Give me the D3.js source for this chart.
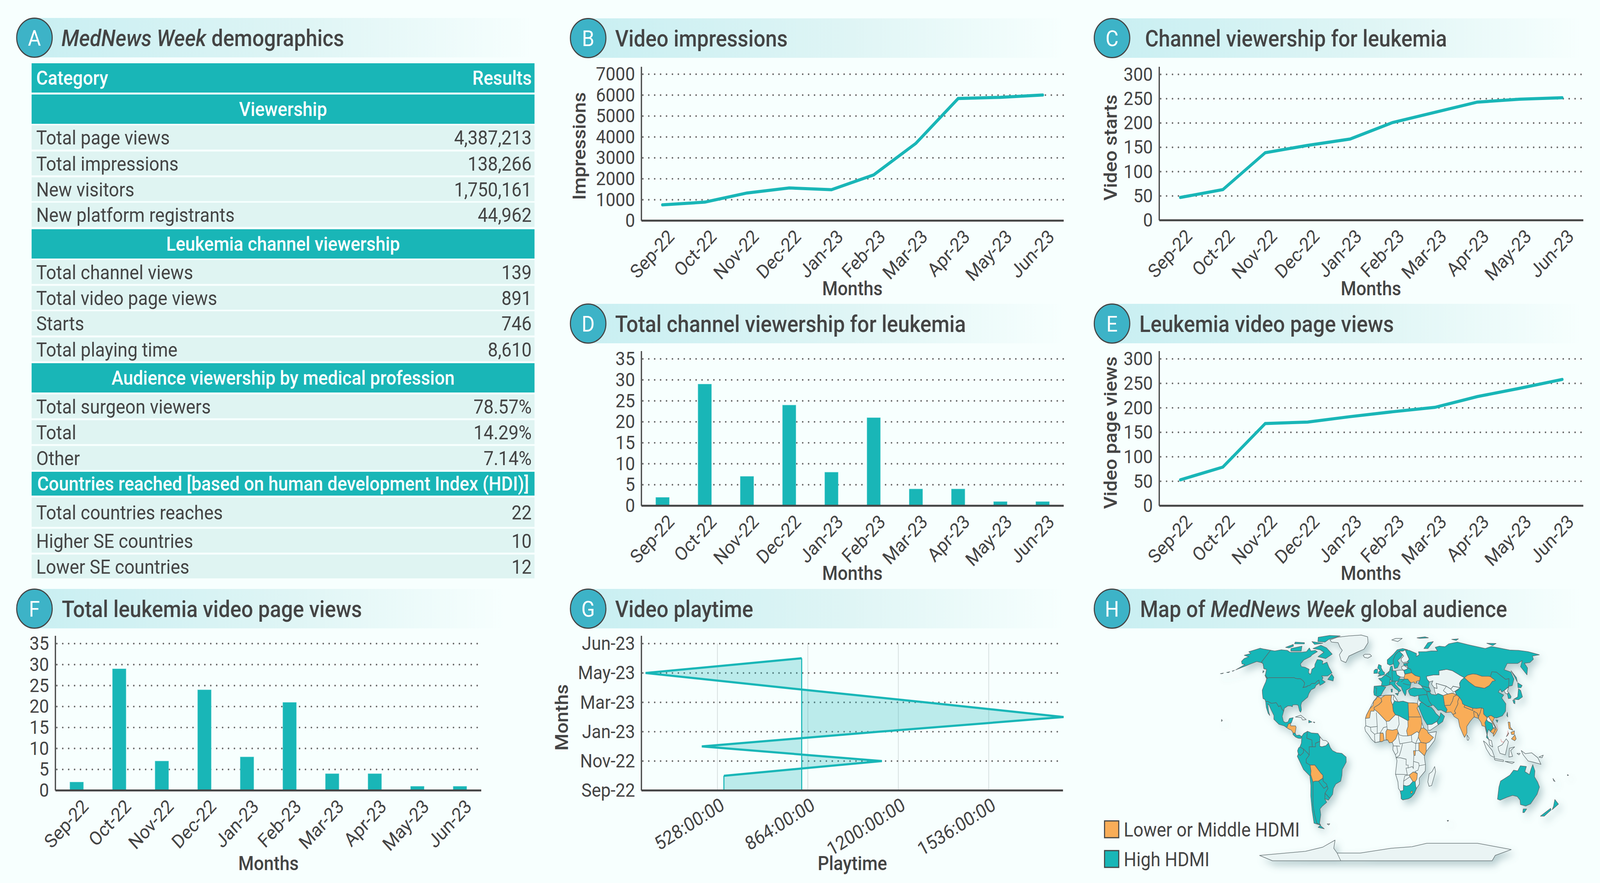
<!DOCTYPE html>
<html>
<head>
<meta charset="utf-8">
<title>MedNews Week</title>
<script src="https://cdn.jsdelivr.net/npm/d3@7"></script>
<style>
  html, body { margin: 0; height: 100%; overflow: hidden; background: #f7fffe; }
  #chart { display: block; width: 100vw; height: 100vh; }
  text { font-family: Roboto, sans-serif; fill: #444; }
</style>
</head>
<body>
<svg id="chart" viewBox="0 0 4505 2261" preserveAspectRatio="none"></svg>
<script>
// ---- data ----
const months = ["Sep-22","Oct-22","Nov-22","Dec-22","Jan-23","Feb-23","Mar-23","Apr-23","May-23","Jun-23"];
const impressions = [754, 885, 1322, 1564, 1480, 2188, 3696, 5838, 5894, 6005];
const videoStarts = [47, 63, 139, 154, 167, 201, 222, 243, 249, 252];
const channelViews = [2, 29, 7, 24, 8, 21, 4, 4, 1, 1];
const videoPageViews = [53, 79, 168, 171, 182, 192, 201, 223, 240, 258];
const totalVideoViews = [2, 29, 7, 24, 8, 21, 4, 4, 1, 1];

// playtime in hours, one per step of the rotated axis
const playtimeSteps = [0, 1, 2, 3, 4, 5, 6, 7, 8, 9];
const playtimeHours = [552, 552, 1139, 470, 1130, 1814, 1302, 774, 261, 841];
const playtimeBase = 841;
const playtimeTicks = [528, 864, 1200, 1536];
const playtimeTickLabels = ["528:00:00", "864:00:00", "1200:00:00", "1536:00:00"];
const playtimeStepTicks = [0, 2, 4, 6, 8, 10];
const playtimeStepLabels = ["Sep-22", "Nov-22", "Jan-23", "Mar-23", "May-23", "Jun-23"];

const tableLabels = ["Category", "Viewership", "Total page views", "Total impressions", "New visitors",
  "New platform registrants", "Leukemia channel viewership", "Total channel views", "Total video page views",
  "Starts", "Total playing time", "Audience viewership by medical profession", "Total surgeon viewers",
  "Total", "Other", "Countries reached [based on human development Index (HDI)]", "Total countries reaches",
  "Higher SE countries", "Lower SE countries"];
const tableValues = ["Results", "", "4,387,213", "138,266", "1,750,161", "44,962", "", "139", "891", "746", "8,610",
  "", "78.57%", "14.29%", "7.14%", "", "22", "10", "12"];
const tableKinds = ["head", "section", "row", "row", "row", "row", "section", "row", "row", "row", "row",
  "section", "row", "row", "row", "section", "row", "row", "row"];

// map regions as [lon, lat] rings
const otherRegions = [
  // africa base
  [[-17,21],[-16.5,16],[-17.5,14.7],[-16.7,12.3],[-13.5,9.5],[-11,6.8],[-7.5,4.4],[-3,5.1],[1.1,6],[4.5,6.3],[6,4.3],[8.7,4.6],[9.7,3],[9.3,-0.5],[11.8,-4],[13.3,-8],[12,-17],[14.5,-22.5],[15.2,-27],[17,-28.8],[18,-31.5],[18.3,-34],[20,-34.8],[25.5,-34],[28,-33],[31,-30.5],[32.8,-27],[35.5,-24],[35,-20],[40.5,-15],[40.5,-11],[39.3,-6],[39.3,-4.6],[41,-1.7],[49,6],[51,12],[43,11],[39,14.5],[37.4,18],[35.8,23.7],[33.5,28],[31,31.5],[25,31.7],[20,32.8],[15,32.3],[11,37],[2,36.8],[-5.9,35.8],[-9.3,32.8],[-13,27.7],[-16,23.5]],
  [[49.3,-12],[50.4,-15.5],[47.5,-25],[45,-25.5],[43.5,-22.5],[44.3,-17],[47,-15.5]],
  [[8.6,36.9],[11,37],[10.2,34],[11.5,33],[9.5,30],[8,33]],
  [[43,13],[43,16.8],[47,17],[52,19],[53,16.6],[45,12.8]],
  [[34.2,31.3],[35.9,35],[36.5,33],[39,32],[37,31.5],[36,29.5],[34.9,29.5]],
  [[-73,78.5],[-65,81],[-50,82.5],[-32,83.5],[-22,81.5],[-20,76],[-24,70.5],[-32,68],[-41,65],[-43,60],[-49,61.5],[-53,66],[-51,69.5],[-55,72],[-60,76],[-69,76.5]],
  [[-24,65.5],[-22,63.9],[-18,63.4],[-13.7,65],[-16,66.4],[-22,66.4]],
  [[12,78.5],[18,80],[27,80],[20,77]],
  [[-60,8.5],[-57,6],[-54,5.8],[-51.7,4.2],[-54,2.3],[-58,1.5],[-60,2],[-60,5.2]],
  [[-85,22],[-80,23.2],[-74.2,20.2],[-77.7,19.9],[-79,21.5]],
  [[47,50],[55,51],[61,51],[62,54],[71,55],[77,54],[83,51],[87.5,49],[83,47],[80.5,45],[80,42],[73,43],[70,41],[66,43],[61,44],[56,45],[56,41.5],[53,42],[51,44.5],[53,46.8],[49,46],[47,48]],
  [[56,45],[61,44],[66,43],[70,41],[73,43],[80,42],[73.8,39.5],[74.8,37],[71,38.3],[65,37.5],[61,36.6],[56,38],[54,37],[53,39.5],[53,42],[56,41.5]],
  [[20,69],[25,69],[28,70],[29,67],[31,62.5],[28,60.5],[23,60],[21.5,61.5],[21.5,63],[25,65],[24,66]],
  [[14.2,53.9],[19,54.5],[23,54.3],[24,50.8],[22.7,49.2],[18.9,49.5],[15,51]],
  [[21,55.3],[21,57],[24,57.8],[28,56],[26.5,55],[23,54.3]],
  [[100,20.3],[101,21.5],[102.2,22.4],[105,18.5],[107.5,15],[105.5,14.4],[104.8,17.5],[101,19]],
  [[100.5,6.5],[103,5.8],[104,1.4],[101,2.8]],
  [[95.3,5.6],[98,4],[103.5,-1],[106,-5.8],[102,-4.5],[98,0]],
  [[105.5,-6.5],[114.5,-7.6],[114.5,-8.6],[106.5,-7.6]],
  [[109,1.5],[113,3],[117,7],[119,5],[117.5,1],[116,-4],[111,-3],[109.5,-0.5]],
  [[119.5,-5.5],[119.8,0.5],[124.8,1.5],[121,-1],[123,-5]],
  [[116,-8.5],[125,-9],[123,-10]],
  [[127,-3],[130,-3],[129,-4]],
  [[131,-1],[135,-3.2],[141,-2.6],[147,-6],[150.5,-10.5],[143,-9],[138,-8.2],[133,-4]],
  [[148,-5.5],[152,-4.2],[151,-6]],
  [[164.2,-20.2],[167,-22.3],[165.5,-21.8]],
  [[177.3,-17.5],[178.6,-18],[177.5,-18.2]],
  [[80,9.7],[81.8,7.5],[81,6],[80,6.2]],
  [[124.3,40],[128,41.5],[130.7,42.5],[127.5,39.5],[128.4,38.5],[126.6,37.8],[125,38]],
  [[-156,20.3],[-154.9,19.5],[-155.8,19]],
  [[-61,-51.5],[-58,-51.4],[-59.5,-52.3]],
  [[69,-49],[70.5,-49],[70,-49.7]],
  [[-165,-76],[-100,-72.5],[-75,-69],[-57,-63.5],[-62,-70],[-60,-74],[-30,-74],[10,-70],[36,-68.7],[53,-66],[115,-66],[163,-71],[150,-76],[155,-81],[-157,-81]]
];

const highRegions = [
  // north america
  [[-124.7,48.4],[-123,49],[-95.2,49],[-94.6,48.7],[-92,48.3],[-88.4,48.3],[-84.8,46.8],[-82.5,45.3],[-82.4,43],[-83.1,42.1],[-79,42.8],[-79,43.3],[-76.5,43.6],[-75,45],[-71.5,45],[-70,46.5],[-68.3,47.3],[-67,45.2],[-70,43.7],[-70.7,41.8],[-74,40.6],[-75.5,38],[-76,35.5],[-78.5,33.8],[-81,32],[-81.3,30],[-80,26.8],[-80.4,25.2],[-81.8,26.2],[-82.8,28],[-84,30],[-86,30.4],[-89.5,30.2],[-89.4,29],[-91.5,29.5],[-94,29.6],[-97,28],[-97.2,25.9],[-99.5,27.5],[-101.4,29.8],[-103,29],[-104.8,30.6],[-106.5,31.8],[-108.2,31.5],[-111,31.3],[-114.8,32.5],[-117.1,32.5],[-118.5,34],[-120.6,34.6],[-122.5,37.5],[-124.2,40.3],[-124.2,43],[-124,46.2]],
  [[-141,69.6],[-141,60.3],[-137.5,58.9],[-133.5,55.5],[-130,55],[-134,58.5],[-141,60],[-147,60.8],[-152,59],[-156,57.5],[-164,54.6],[-158,58.5],[-162,59],[-165,61],[-164.5,63],[-161,64.5],[-168,65.6],[-162,67],[-166.5,68.4],[-156.5,71.3],[-150,70.5]],
  [[-141,69.6],[-135,69],[-128,70],[-120,69.5],[-115,68],[-108,68],[-100,68],[-95,68.5],[-94,71.5],[-90,69],[-85,69.5],[-81.5,68.5],[-86,66],[-87,64.5],[-93,62],[-94.8,59],[-92.5,57],[-88,56.5],[-82.5,55],[-82,52.8],[-79.5,51.3],[-78.8,52.5],[-79.5,55],[-77,56.5],[-78,58.7],[-77.5,62.3],[-73,62],[-70,61],[-69.5,58.8],[-65,60.3],[-61,56.5],[-56,52.5],[-60,50.2],[-66.5,50.2],[-64.5,49],[-65,47.5],[-61,46],[-63.5,44.6],[-66,43.6],[-67,45.2],[-68.3,47.3],[-70,46.5],[-71.5,45],[-75,45],[-76.5,43.6],[-79,43.3],[-79,42.8],[-83.1,42.1],[-82.4,43],[-82.5,45.3],[-84.8,46.8],[-88.4,48.3],[-92,48.3],[-94.6,48.7],[-95.2,49],[-123,49],[-124.7,48.4],[-128,51],[-130,55],[-133.5,55.5],[-137.5,58.9],[-141,60.3]],
  [[-62,66.5],[-68,63],[-78,64.5],[-73,68],[-79,70],[-89,71],[-81,73.7],[-72,71.5]],
  [[-62,82.5],[-78,83],[-92,81],[-88,77],[-78,76.5],[-75,79]],
  [[-117,71],[-105,73],[-102,69],[-115,69]],
  [[-125,72],[-118,74.5],[-116,73],[-120,71.5]],
  [[-96,77],[-80,75.5],[-90,74.5]],
  [[-118,76.5],[-105,76],[-104,75],[-117,75]],
  [[-59,47.7],[-53,46.7],[-53,49.3],[-56,51.5]],
  [[-133,54],[-131.5,53.5],[-132,52.5]],
  [[-128.3,50.8],[-124,48.8],[-125.5,48.8]],
  [[-167,53.7],[-165,54.3],[-166,53.6]],
  [[-172,52.7],[-169,53.2],[-170,52.6]],
  [[-178,51.9],[-175,52.3],[-176,51.8]],
  [[-117.1,32.5],[-114.8,32.5],[-111,31.3],[-108.2,31.5],[-106.5,31.8],[-104.8,30.6],[-103,29],[-101.4,29.8],[-99.5,27.5],[-97.2,25.9],[-97.8,22.4],[-96,19],[-94,18.2],[-91.5,18.6],[-90.5,21],[-87,21.5],[-88.2,18],[-91,17.2],[-92,14.6],[-95,16],[-100,17],[-105.5,20.4],[-106,23],[-109.4,26.5],[-112.8,30],[-114.5,31],[-112,26],[-110,23],[-112,24.5],[-115,28.5]],
  [[-85.7,11],[-83.7,11],[-82.5,9.3],[-79.5,9.6],[-77.3,8.6],[-78,7.3],[-80.4,7.4],[-83,8.2],[-85.7,10]],
  [[-71.7,19.7],[-68.5,18.6],[-71.5,18]],
  [[-67.2,18.5],[-65.6,18.4],[-66,18]],
  // south america
  [[-77.3,8.6],[-75.5,10.7],[-72,12.2],[-72.3,10],[-72.4,7.5],[-67.5,6.2],[-67,1.5],[-70,1.5],[-69.7,-4.2],[-72,-2.4],[-75.2,-0.1],[-78.8,1.4],[-77.4,4],[-77.3,7]],
  [[-72,12.2],[-68,11],[-62,10.7],[-60,8.5],[-60,5.2],[-64,4],[-64,1.5],[-67,1.5],[-67.5,6.2],[-72.4,7.5],[-72.3,10]],
  [[-80,0.8],[-78.8,1.4],[-75.2,-0.1],[-75.5,-2.5],[-78.5,-4.5],[-80.3,-3.4],[-81,-1.2]],
  [[-80.3,-3.4],[-78.5,-4.5],[-75.5,-2.5],[-75.2,-0.1],[-72,-2.4],[-69.9,-4.2],[-73,-7],[-73,-9.5],[-69.5,-11],[-69,-15],[-69.5,-17.5],[-70.4,-18.4],[-76,-14],[-81.3,-5]],
  [[-60,5.2],[-60,2],[-58,1.5],[-54,2.3],[-51.7,4.2],[-50,1],[-48,-1],[-44,-2.5],[-39,-3],[-35,-5.5],[-35,-9],[-39,-14],[-39.5,-18],[-41,-22],[-46,-24],[-48.7,-27],[-50,-31],[-53.4,-33.7],[-57.5,-30.2],[-54,-27],[-54.6,-25.5],[-55,-24],[-58,-22],[-57.8,-18],[-60,-16.2],[-65,-11],[-69.5,-11],[-73,-9.5],[-73,-7],[-69.9,-4.2],[-70,1.5],[-67,1.5],[-64,1.5],[-64,4]],
  [[-58.2,-20],[-58,-22],[-55,-24],[-54.6,-25.5],[-58,-27],[-62.6,-22]],
  [[-57.5,-30.2],[-53.4,-33.7],[-55,-35],[-58.4,-34]],
  [[-66,-22],[-62.6,-22],[-58,-27],[-54.6,-25.5],[-54,-27],[-57.5,-30.2],[-58.4,-34],[-57,-36.5],[-62,-39],[-65,-41],[-65.5,-45],[-69,-51],[-68.4,-52.4],[-72,-51],[-72,-45],[-71.5,-38],[-70,-33],[-68,-22.5]],
  [[-69,-52.6],[-65.5,-55],[-72,-54]],
  [[-70.4,-18.4],[-69.5,-17.5],[-68,-22.5],[-70,-33],[-71.5,-38],[-72,-45],[-72,-51],[-68.4,-52.4],[-75,-51],[-73.5,-42],[-72,-32],[-70.5,-25]],
  // africa, middle east
  [[11.5,33],[15,32.3],[20,32.8],[25,31.7],[25,20],[24,19.5],[15,23],[12,23.5],[10,26],[9.5,30]],
  [[17,-28.8],[20,-28.4],[20,-24.8],[23,-25.4],[26,-24.7],[29,-22.2],[31.3,-22.4],[32,-25.5],[32.8,-27],[31,-30.5],[28,-33],[25.5,-34],[20,-34.8],[18.3,-34],[18,-31.5]],
  [[52,19],[55,22],[56.3,24.9],[59.8,22.5],[57.5,18.8],[53,16.6]],
  [[34.9,29.5],[36,29.5],[37,31.5],[39,32],[44,29.2],[47.8,28.5],[50,26.5],[51.5,24.5],[55,22],[52,19],[47,17],[43,16.8],[42.5,16.5],[39,21],[37,25]],
  [[35.9,35],[36,36.7],[42,37.3],[44.8,37.2],[46,33],[48.5,30],[47.8,29.5],[44,29.2],[39,32],[36.5,33]],
  [[44.8,39.5],[48,39],[49,37.5],[54,37],[56,38],[61,36.6],[61,31.5],[63,27],[61.5,25],[57,26.8],[54,26.5],[50,30],[48.5,30],[46,33],[44.8,37.2]],
  [[26,40],[28,41.2],[32,42],[36,41.5],[41.5,41.5],[44.8,39.5],[44.8,37.2],[42,37.3],[36,36.7],[32,36],[27.5,36.8],[26.5,38.5]],
  [[40,43.4],[48,41.8],[49,39.5],[44.8,39.5],[41.5,41.5]],
  // asia
  [[73.8,39.5],[80,42],[80.5,45],[83,47],[87.5,49],[91,46],[96,42.8],[105,41.6],[111,43.5],[116,46.5],[116,49.8],[120,53.2],[125,53],[131,47.8],[135,48.4],[131,43],[128,41.5],[124.3,40],[121.5,39],[121,41],[118,39],[122.5,37],[119.5,35],[122,31],[120,26],[116,22.8],[110,21.3],[108,21.5],[105,23],[102.2,22.4],[101,21.5],[98,24],[98.7,27.5],[97,28.2],[92,27.8],[88.2,28],[81,30],[79,31],[78.8,33],[77,35.5],[74.8,37]],
  [[28,70],[33,69.5],[41,67],[40,64.6],[44,66],[44,68.4],[54,68.5],[60,69],[68,69],[67,72],[73,73],[80,72.5],[87,75],[100,76.5],[113,74],[130,71],[140,72.7],[160,69.7],[170,69.5],[180,68.5],[190,66],[180,65],[177.5,62.5],[170,60],[163,59.5],[162.5,56],[156.7,51],[155.7,57],[163,61.5],[155,59.3],[143,59.3],[135,54.7],[141,53],[140,48],[135,43.5],[131,43],[135,48.4],[131,47.8],[125,53],[120,53.2],[116,49.8],[114,50],[107,50],[102,51.4],[98,51.7],[92,50.8],[87.5,49],[83,51],[77,54],[71,55],[62,54],[61,51],[55,51],[47,50],[47,48],[49,46],[47.5,43],[48,41.8],[40,43.4],[37,45],[39,47],[40,49.5],[35,50.5],[31.5,52.5],[31,55],[28,56],[27.5,59.5],[30,60],[28,60.5],[31,62.5],[29,67]],
  [[142,54],[143.5,49],[142,46],[142,50]],
  [[52,71],[57,71],[68,77],[60,76]],
  [[48,80.5],[60,81.5],[64,80.5],[52,80]],
  [[95,79],[105,79.5],[100,78]],
  [[138,75.5],[150,75.3],[143,73.5]],
  [[98,18],[100,20.3],[101,19],[104.8,17.5],[105.5,14.4],[102.5,12],[100.8,13.5],[99.5,11],[99.2,9.2],[100.5,6.5],[98.3,8],[99,10],[98.6,14]],
  [[121.5,25.2],[121,22],[120.2,23]],
  [[109,20],[111,19.8],[110,18.3]],
  [[131,34],[136,35.7],[140,41.3],[141.5,40],[140.8,35.7],[136,33.8],[132.5,34]],
  [[140,42],[142,45.4],[145.3,43.5],[143,42]],
  [[130,33.5],[132,33.3],[131,31],[130,31.5]],
  [[126,34.5],[126.6,37.8],[128.4,38.5],[129.4,36],[128.5,34.8]],
  // europe
  [[5,59],[5,62],[12,66],[18,70],[25,71],[31,70],[28,70],[25,69],[20,69],[15,66],[12,62],[12,59],[8,58]],
  [[12,59],[12,62],[15,66],[20,69],[24,66],[21.5,64],[17,61.5],[19,59.5],[16.5,56.3],[13,55.5]],
  [[-5.5,50],[1.5,51.2],[1.7,52.7],[0,53.5],[-2,56],[-2,57.7],[-5,58.6],[-6,56],[-3,54],[-5,53],[-5,51.7],[-3,51.3]],
  [[-10,52],[-6,52.2],[-6,55.2],[-8.5,55],[-10,54]],
  [[-4.7,48.4],[-1.5,48.7],[2.5,51],[8,49],[7.5,47.5],[6.8,44],[3,43.2],[-1.7,43.4],[-1,46]],
  [[-9.3,43],[-1.7,43.4],[3,42.4],[0,39.5],[-2,36.8],[-5.5,36],[-9,37],[-9.5,39]],
  [[2.5,51],[4,52],[7,53.5],[8.5,57],[10.5,57.5],[11,54],[14.2,53.9],[15,51],[18.9,49.5],[17,48],[16.5,46.5],[13.5,46.5],[10,46.5],[7.5,47.5],[8,49]],
  [[23.5,59.2],[27.5,59.5],[27.5,57.6],[24,57.8]],
  [[23,54.3],[26.5,55],[28,56],[31,55],[31.5,52.5],[24,51.5]],
  [[16.5,46.5],[17,48],[22.7,48],[26.5,48],[28.5,46],[29.5,45],[28,41.8],[26,41],[24,40.5],[23.5,38],[22.5,36.5],[21,38.5],[19.5,41],[19,42.5],[16,43.5],[14,45]],
  [[7,44],[7.5,46],[10,46.5],[13.5,46.5],[12.5,44.5],[16,41.8],[18.5,40],[16,39],[16,38],[15.5,40],[12.5,41.5],[10.5,43],[8.7,44.3]],
  [[12.5,38],[15.5,38.2],[15,36.7]],
  [[8.3,41],[9.7,41],[9.5,39],[8.5,39]],
  // oceania
  [[114,-22],[113.5,-26],[115,-34.3],[118,-35],[124,-33],[129,-31.7],[134,-32.5],[138,-35],[140,-38],[146,-39],[150,-37.5],[153,-31],[153.2,-26],[150,-22.5],[146,-19],[145.5,-15],[142.7,-10.7],[141.5,-14],[140.8,-17.5],[136,-15.5],[136.8,-12],[131,-11.5],[129,-15],[125,-14.5],[122,-18],[117,-20.5]],
  [[144.7,-41],[148.3,-41],[147.5,-43.5],[146,-43.5]],
  [[172.7,-34.5],[178.5,-37.7],[175,-41.5],[174.5,-39]],
  [[172.7,-40.6],[174,-41.7],[170.5,-46],[166.5,-46]]
];

const lowerRegions = [
  [[-92,14.6],[-91,17.2],[-89,17.9],[-88.5,15.9],[-84,15.9],[-83.2,15],[-83.7,11],[-85.7,11],[-87.5,13],[-90,13.7]],
  [[-69.5,-11],[-65,-11],[-60,-16.2],[-57.8,-18],[-58.2,-20],[-62.6,-22],[-66,-22],[-68,-22.5],[-69.5,-17.5],[-69,-15]],
  [[-5.9,35.8],[-2,35],[-1.2,32.5],[-4,30.5],[-8.7,28.5],[-8.7,26],[-12,26],[-13,21.3],[-17,21],[-16,23.5],[-13,27.7],[-9.8,30],[-9.3,32.8],[-6.8,34.2]],
  [[-2,35],[2,36.8],[8.6,36.9],[8,33],[9.5,30],[10,26],[12,23.5],[6,19.2],[3.2,19],[-4.8,25],[-8.7,27.3],[-8.7,28.5],[-4,30.5],[-1.2,32.5]],
  [[25,31.7],[31,31.5],[34.2,31.3],[34.9,29.5],[33.5,28],[35.8,23.7],[36.9,22],[25,22]],
  [[25,22],[36.9,22],[37.4,18],[36.5,14.3],[34.2,11],[32.5,12],[27,9.5],[23.5,9],[22.5,12.5],[24,15.5],[24,19.5],[25,20]],
  [[36.5,14.3],[39,14.5],[42.5,12.5],[43,11],[48,8],[44,4.8],[41,3.9],[36,4.5],[33.5,8],[34.2,11]],
  [[34,4.2],[36,4.5],[41,3.9],[41,-1.7],[39.3,-4.6],[34,-1]],
  [[2.7,6.3],[2.8,12],[4,13.5],[9,12.9],[13.5,13.7],[14.5,11.5],[12,7],[8.7,4.6],[6,4.3],[4.5,6.3]],
  [[-3,5.1],[-2.8,11],[0,11],[0.5,10],[1.1,6],[-1,5.1]],
  [[25.3,-17.8],[29,-15.7],[33,-16.8],[32.8,-20.5],[31.3,-22.4],[29,-22.2],[26,-19]],
  [[27,-29.5],[28.6,-28.6],[29.4,-29.5],[28,-30.6]],
  [[28.9,-1.2],[30.8,-1.2],[30.5,-4.4],[29.3,-4.4]],
  [[61,36.6],[65,37.5],[71,38.3],[74.8,37],[71.5,36],[69.5,33],[66.5,30],[61,29.8],[61,31.5]],
  [[61,29.8],[66.5,30],[69.5,33],[71.5,36],[74.8,37],[77,35.5],[74.5,32.5],[74.5,31],[70,26],[71,24.5],[68,23.7],[66.5,25.4],[61.5,25],[63,27]],
  [[74.5,31],[74.5,32.5],[77,35.5],[78.8,33],[79,31],[81,30],[80,28.8],[88,26.4],[88.2,28],[92,27.8],[97,28.2],[95,25],[93,22.5],[92,24.5],[88.8,26],[88.5,22],[87,21.2],[84,19],[80.3,15.5],[80,11],[77.5,8],[76,10.5],[73.5,15.5],[72.8,20.5],[69,22.3],[68,23.7],[71,24.5],[70,26]],
  [[80,28.8],[81,30],[88.2,28],[88,26.4]],
  [[88.5,22],[88.8,26],[92,24.5],[92.3,21]],
  [[92.3,21],[93,22.5],[95,25],[97,28.2],[98.7,27.5],[98,24],[101,21.5],[100,20.3],[98,18],[98.6,14],[99,10],[97.7,15.5],[95,16],[94.3,18.5]],
  [[102.2,22.4],[105,23],[108,21.5],[105.7,19],[109.2,13],[107,10.5],[105,8.7],[105,10.5],[107.5,13.5],[107.5,15],[105,18.5]],
  [[102.5,12],[105.5,14.4],[107.5,13.5],[105,10.5]],
  [[120.5,18.5],[122.2,18.4],[122,15],[124,13],[120.5,14]],
  [[122,7],[125.5,9.7],[126.5,7],[125,5.7]],
  [[122,11.5],[125.5,12.5],[125,10],[122.5,10]],
  [[117.3,8.5],[119.5,11.3],[119.7,10.5]],
  [[87.5,49],[92,50.8],[98,51.7],[102,51.4],[107,50],[114,50],[116,49.8],[119.5,47],[116,46.5],[111,43.5],[105,41.6],[96,42.8],[91,46]],
  [[24,51.5],[31.5,52.5],[35,50.5],[40,49.5],[39,47],[35,46.3],[36,45.3],[33,45],[33,46],[30,45.5],[28.5,46],[26.5,48],[22.7,48],[22.7,49.2]]
];

const mapBorderLines = [
  [[-16.5,16],[-12,15],[-5.5,15.5],[-6.5,25]],
  [[3.2,19],[3.8,15.3],[0.5,14.8],[-2.8,11]],
  [[-12,15],[-11.5,12.4],[-8,10.2],[-8,7.5],[-7.5,4.4]],
  [[-5.5,15.5],[-5.5,10.8],[-2.8,11]],
  [[-5.5,10.8],[-8,10.2]],
  [[12,23.5],[15,23],[15.5,17],[13.5,13.7]],
  [[4,13.5],[3.8,15.3]],
  [[14.5,11.5],[15.5,9.7],[19,9],[23.5,9]],
  [[15,7.5],[16,3.5],[19,4],[27.4,5],[27,9.5]],
  [[27.4,5],[31,3.8],[34,4.2]],
  [[33.5,8],[31,3.8]],
  [[15,7.5],[14.5,11.5]],
  [[9.7,2.2],[16,2]],
  [[13,2.3],[14,-2.3],[11.8,-4]],
  [[18.5,3.5],[17,-1],[15.5,-4.5],[12.3,-6]],
  [[12.3,-6],[16.5,-6],[22,-7],[22,-11],[24,-11],[24,-13],[28,-12],[29,-13.3],[29,-8.5]],
  [[30.8,-1.2],[31,3.8]],
  [[29.3,-4.4],[29,-8.5]],
  [[30.8,-1.2],[34,-1]],
  [[29,-8.5],[34,-9.5],[34.5,-11.5],[40.5,-10.6]],
  [[11.8,-17.3],[18.5,-17.4],[23.4,-17.6],[22,-13],[24,-13]],
  [[20,-28.4],[20,-22],[21,-18.3]],
  [[20,-22],[26,-19]],
  [[21,-18.3],[25.3,-17.8]],
  [[33,-16.8],[30.5,-15.5],[33.5,-14.5],[34.5,-11.5]],
  [[-60,-74],[-60,-81]],
  [[-8.8,42],[-6.5,41.8],[-7,37.2]],
  [[66,43],[62,40],[66,37.5]],
  [[70,41],[72,39],[78,40.5]],
  [[6,51],[6,53.5]],
  [[10,46.5],[10,54]],
  [[8.5,54.8],[11,54]],
  [[21,45],[26,44],[28.5,44]],
  [[19,46],[22.5,47.5]]
];

const nineDashLine = [[109,17],[110.5,11],[112.5,5],[118,4.5],[118.8,9],[119.6,15],[120,20]];

// ---- helpers ----
const ink = "#444";
const teal = "#19b6b7";
const svg = d3.select("#chart");
const defs = svg.append("defs");

const grad = defs.append("linearGradient").attr("id", "band");
grad.append("stop").attr("offset", "0").attr("stop-color", "#c9eff2");
grad.append("stop").attr("offset", "0.55").attr("stop-color", "#dff5f5");
grad.append("stop").attr("offset", "1").attr("stop-color", "#f7fffe");

const shadow = defs.append("filter").attr("id", "mapShadow")
  .attr("filterUnits", "userSpaceOnUse")
  .attr("x", 3300).attr("y", 1590).attr("width", 1205).attr("height", 671);
shadow.append("feDropShadow").attr("dx", 9).attr("dy", 11).attr("stdDeviation", 10)
  .attr("flood-color", "#5f868f").attr("flood-opacity", 0.42);

// panel title strip with the round letter
function header(letter, parts, cx, top, titleX, right) {
  const h = 101, r = 50;
  svg.append("rect").attr("x", cx).attr("y", top).attr("width", right - cx).attr("height", h)
    .attr("fill", "url(#band)");
  svg.append("circle").attr("cx", cx).attr("cy", top + h / 2).attr("r", r)
    .attr("fill", "#3db3c7").attr("stroke", ink).attr("stroke-width", 3);
  svg.append("text").attr("x", cx).attr("y", top + h / 2).attr("dy", "0.36em")
    .attr("text-anchor", "middle").style("fill", "#fff").style("font-size", "56px").text(letter);
  const t = svg.append("text").attr("x", titleX).attr("y", top + h / 2).attr("dy", "0.36em")
    .style("font-size", "58.5px").style("font-weight", 500);
  parts.forEach(p => t.append("tspan").style("font-style", p[1] ? "italic" : "normal").text(p[0]));
}

function styleAxis(g) {
  g.select(".domain").remove();
  g.selectAll(".tick line").remove();
  g.selectAll("text").style("font-family", "Roboto, sans-serif").style("font-size", "49px").style("fill", ink);
}

function dottedGrid(g, ticks, y, x0, x1) {
  g.selectAll(".dot-grid").data(ticks).enter().append("line")
    .attr("class", "dot-grid")
    .attr("x1", x0 + 4).attr("x2", x1)
    .attr("y1", d => y(d)).attr("y2", d => y(d))
    .attr("stroke", "#666").attr("stroke-width", 4.4)
    .attr("stroke-linecap", "round").attr("stroke-dasharray", "0 16.67");
}

// frame shared by the month charts, returns the band scale and value scale
function monthFrame(p) {
  const x = d3.scaleBand().domain(months).range([p.x0, p.x1]).paddingInner(0.68).paddingOuter(0.34);
  const y = d3.scaleLinear().domain([0, p.max]).range([p.y0, p.yMax]);
  const g = svg.append("g");
  dottedGrid(g, d3.range(p.step, p.max + 1, p.step), y, p.x0, p.x1);

  g.append("g").attr("transform", `translate(${p.x0},0)`)
    .call(d3.axisLeft(y).tickValues(d3.range(0, p.max + 1, p.step)).tickFormat(d3.format("d")).tickSize(0).tickPadding(18))
    .call(styleAxis);

  const xAxis = g.append("g").attr("transform", `translate(0,${p.y0})`)
    .call(d3.axisBottom(x).tickSize(0)).call(styleAxis);
  xAxis.selectAll("text")
    .attr("text-anchor", "end").attr("dy", "0.35em")
    .attr("transform", "translate(24,32)rotate(-45)").attr("y", 0).attr("x", 0);

  return { x, y, g };
}

function axisLines(g, p) {
  g.append("line").attr("x1", p.x0).attr("x2", p.x0).attr("y1", p.yTop).attr("y2", p.y0)
    .attr("stroke", ink).attr("stroke-width", 3.5);
  g.append("line").attr("x1", p.x0).attr("x2", p.x1).attr("y1", p.y0).attr("y2", p.y0)
    .attr("stroke", ink).attr("stroke-width", 5);
}

function titles(p) {
  svg.append("text").attr("x", p.xTitle[0]).attr("y", p.xTitle[1]).attr("dy", "0.36em")
    .attr("text-anchor", "middle").style("font-size", "50px").style("font-weight", 500).text(p.xLabel || "Months");
  if (p.yLabel) {
    svg.append("text").attr("transform", `translate(${p.yTitle[0]},${p.yTitle[1]})rotate(-90)`)
      .attr("dy", "0.36em").attr("text-anchor", "middle")
      .style("font-size", "50px").style("font-weight", 500).text(p.yLabel);
  }
}

function linePanel(p) {
  const { x, y, g } = monthFrame(p);
  const line = d3.line().x((d, i) => x(months[i]) + x.bandwidth() / 2).y(d => y(d));
  g.append("path").datum(p.values).attr("d", line).attr("fill", "none")
    .attr("stroke", teal).attr("stroke-width", 8).attr("stroke-linecap", "round");
  axisLines(g, p);
  titles(p);
}

function barPanel(p) {
  const { x, y, g } = monthFrame(p);
  g.selectAll(".bar").data(p.values).enter().append("rect").attr("class", "bar")
    .attr("x", (d, i) => x(months[i])).attr("width", x.bandwidth())
    .attr("y", d => y(d)).attr("height", d => p.y0 - y(d))
    .attr("fill", teal).attr("stroke", "#7fdcdc").attr("stroke-width", 0.8);
  axisLines(g, p);
  titles(p);
}

// ---- A: table ----
header("A", [["MedNews Week", true], [" demographics", false]], 97, 46, 173, 1505);
const rowEdges = [[162,237],[242,317],[321,383],[388,449],[454,515],[519,581],[587,662],[666,727],[732,793],
  [797,859],[864,925],[930,1005],[1010,1071],[1076,1137],[1142,1203],[1208,1269],[1274,1349],[1354,1415],[1420,1481]];
const tableX0 = 89, tableX1 = 1505;
const tableRows = svg.append("g").selectAll("g").data(tableLabels).enter().append("g");
tableRows.append("rect")
  .attr("x", tableX0).attr("width", tableX1 - tableX0)
  .attr("y", (d, i) => rowEdges[i][0]).attr("height", (d, i) => rowEdges[i][1] - rowEdges[i][0])
  .attr("fill", (d, i) => tableKinds[i] === "row" ? "#dff4f2" : teal);
tableRows.append("text")
  .attr("x", (d, i) => tableKinds[i] === "section" ? (tableX0 + tableX1) / 2 : tableX0 + 13)
  .attr("y", (d, i) => (rowEdges[i][0] + rowEdges[i][1]) / 2).attr("dy", "0.36em")
  .attr("text-anchor", (d, i) => tableKinds[i] === "section" ? "middle" : "start")
  .style("font-size", (d, i) => tableKinds[i] === "row" ? "50.5px" : "50px")
  .style("font-weight", (d, i) => tableKinds[i] === "row" ? 400 : 500)
  .style("fill", (d, i) => tableKinds[i] === "row" ? ink : "#fff")
  .text(d => d);
tableRows.append("text")
  .attr("x", tableX1 - 8)
  .attr("y", (d, i) => (rowEdges[i][0] + rowEdges[i][1]) / 2).attr("dy", "0.36em")
  .attr("text-anchor", "end")
  .style("font-size", (d, i) => tableKinds[i] === "row" ? "50.5px" : "50px")
  .style("font-weight", (d, i) => tableKinds[i] === "row" ? 400 : 500)
  .style("fill", (d, i) => tableKinds[i] === "row" ? ink : "#fff")
  .text((d, i) => tableValues[i]);

// ---- B to F ----
header("B", [["Video impressions", false]], 1656, 47, 1732, 3000);
linePanel({ values: impressions, x0: 1806, x1: 2995, y0: 565, yMax: 190, yTop: 171, max: 7000, step: 1000,
  yLabel: "Impressions", yTitle: [1631, 374], xTitle: [2400, 738] });

header("C", [["Channel viewership for leukemia", false]], 3131, 47, 3224, 4460);
linePanel({ values: videoStarts, x0: 3264, x1: 4458, y0: 564, yMax: 190.5, yTop: 171, max: 300, step: 50,
  yLabel: "Video starts", yTitle: [3127, 378], xTitle: [3860, 738] });

header("D", [["Total channel viewership for leukemia", false]], 1656, 778, 1732, 3000);
barPanel({ values: channelViews, x0: 1806, x1: 2995, y0: 1295, yMax: 919, yTop: 899, max: 35, step: 5,
  xTitle: [2400, 1467] });

header("E", [["Leukemia video page views", false]], 3131, 778, 3208, 4460);
linePanel({ values: videoPageViews, x0: 3264, x1: 4458, y0: 1295, yMax: 919, yTop: 899, max: 300, step: 50,
  yLabel: "Video page views", yTitle: [3127, 1108], xTitle: [3860, 1467] });

header("F", [["Total leukemia video page views", false]], 97, 1508, 174, 1426);
barPanel({ values: totalVideoViews, x0: 156, x1: 1355, y0: 2024, yMax: 1648, yTop: 1628, max: 35, step: 5,
  xTitle: [756, 2210] });

// ---- G: rotated area ----
header("G", [["Video playtime", false]], 1656, 1508, 1732, 3000);
const gp = { x0: 1806, x1: 2993, y0: 2024, yMax: 1648, yTop: 1628, xLabel: "Playtime", yLabel: "Months",
  xTitle: [2400, 2210], yTitle: [1581, 1837] };
const gx = d3.scaleLinear().domain([528, 1536]).range([2020, 2784]);
const gy = d3.scaleLinear().domain([0, 10]).range([gp.y0, gp.yMax]);
const gg = svg.append("g");
gg.selectAll(".vgrid").data(playtimeTicks).enter().append("line").attr("class", "vgrid")
  .attr("x1", d => gx(d)).attr("x2", d => gx(d)).attr("y1", gp.yMax).attr("y2", gp.y0)
  .attr("stroke", "#d4dcdc").attr("stroke-width", 2);
dottedGrid(gg, playtimeStepTicks.slice(1), gy, gp.x0, gp.x1);
gg.append("path").datum(playtimeSteps)
  .attr("d", d3.area().y(d => gy(d)).x0(gx(playtimeBase)).x1(d => gx(playtimeHours[d])))
  .attr("fill", teal).attr("fill-opacity", 0.27);
gg.append("line").attr("x1", gx(playtimeBase)).attr("x2", gx(playtimeBase)).attr("y1", gp.y0).attr("y2", gy(9))
  .attr("stroke", teal).attr("stroke-width", 3);
gg.append("path").datum(playtimeSteps.slice(0, 2))
  .attr("d", d3.line().y(d => gy(d)).x(d => gx(playtimeHours[d])))
  .attr("fill", "none").attr("stroke", teal).attr("stroke-width", 3);
gg.append("path").datum(playtimeSteps.slice(1))
  .attr("d", d3.line().y(d => gy(d)).x(d => gx(playtimeHours[d])))
  .attr("fill", "none").attr("stroke", teal).attr("stroke-width", 5.5);
gg.append("g").attr("transform", `translate(${gp.x0},0)`)
  .call(d3.axisLeft(gy).tickValues(playtimeStepTicks).tickFormat((d, i) => playtimeStepLabels[i]).tickSize(0).tickPadding(18))
  .call(styleAxis);
const gxAxis = gg.append("g").attr("transform", `translate(0,${gp.y0})`)
  .call(d3.axisBottom(gx).tickValues(playtimeTicks).tickFormat((d, i) => playtimeTickLabels[i]).tickSize(0))
  .call(styleAxis);
gxAxis.selectAll("text").attr("text-anchor", "end").attr("dy", "0.35em").attr("x", 0).attr("y", 0)
  .attr("transform", "translate(14,32)rotate(-30)");
axisLines(gg, gp);
titles(gp);

// ---- H: map ----
header("H", [["Map of ", false], ["MedNews Week", true], [" global audience", false]], 3131, 1508, 3210, 4460);
const mapX = d3.scaleLinear().domain([0, 1]).range([3894, 3894 + 195.5]);
const mapY = d3.scaleLinear().domain([0, 1]).range([1918, 1918 - 212]);
const toRad = Math.PI / 180;
function project(c) {
  const p = d3.geoNaturalEarth1Raw(c[0] * toRad, c[1] * toRad);
  return [mapX(p[0]), mapY(p[1])];
}
const ring = d3.line().x(c => project(c)[0]).y(c => project(c)[1]).curve(d3.curveLinearClosed);
const open = d3.line().x(c => project(c)[0]).y(c => project(c)[1]);
const mapG = svg.append("g").attr("filter", "url(#mapShadow)");
[[otherRegions, "#eaf4f4"], [highRegions, teal], [lowerRegions, "#f9ad58"]].forEach(([regions, fill]) => {
  mapG.append("g").selectAll("path").data(regions).enter().append("path")
    .attr("d", ring).attr("fill", fill).attr("stroke", "#5a6668").attr("stroke-width", 1.3)
    .attr("stroke-linejoin", "round");
});
mapG.append("g").selectAll("path").data(mapBorderLines).enter().append("path")
  .attr("d", open).attr("fill", "none").attr("stroke", "#5a6668").attr("stroke-width", 1.2);
svg.append("path").datum(nineDashLine).attr("d", open).attr("fill", "none")
  .attr("stroke", "#e58a8a").attr("stroke-width", 1.2).attr("stroke-dasharray", "14 26");

// legend
const legendLabels = ["Lower or Middle HDMI", "High HDMI"];
const legendColors = ["#f9ad58", teal];
const legend = svg.append("g").selectAll("g").data(legendLabels).enter().append("g")
  .attr("transform", (d, i) => `translate(3110,${2102 + i * 76})`);
legend.append("rect").attr("width", 40).attr("height", 43)
  .attr("fill", (d, i) => legendColors[i]).attr("stroke", ink).attr("stroke-width", 3);
legend.append("text").attr("x", 54).attr("y", 22).attr("dy", "0.36em")
  .style("font-size", "50px").text(d => d);
</script>
</body>
</html>
